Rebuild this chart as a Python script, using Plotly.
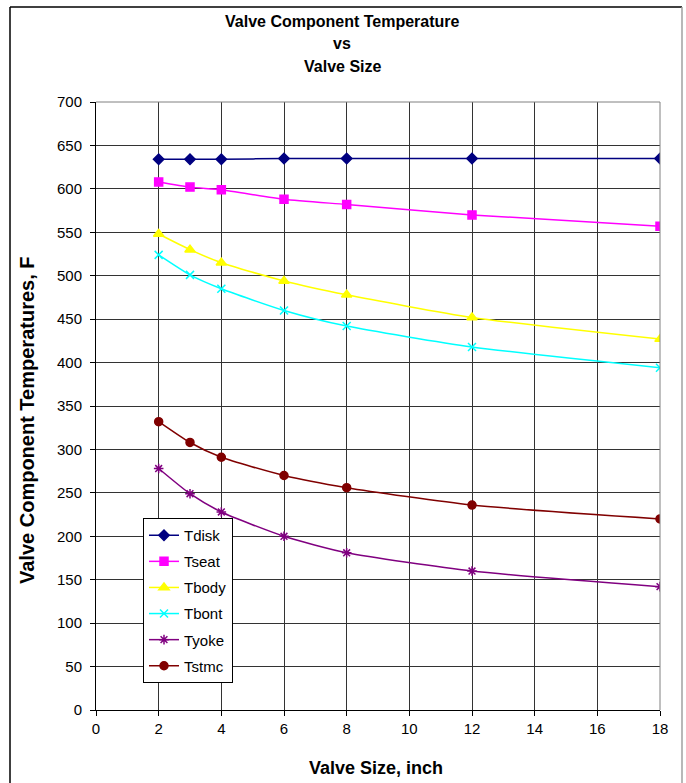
import plotly.graph_objects as go

# Valve size, inch
sizes = [2, 3, 4, 6, 8, 12, 18]

# Component temperatures, F
tdisk = [634, 634, 634, 635, 635, 635, 635]
tseat = [608, 602, 599, 588, 582, 570, 557]
tbody = [548, 530, 515, 494, 478, 452, 427]
tbont = [524, 501, 485, 460, 442, 418, 394]
tyoke = [278, 249, 228, 200, 181, 160, 142]
tstmc = [332, 308, 291, 270, 256, 236, 220]

x_ticks = list(range(0, 19, 2))
y_ticks = list(range(0, 701, 50))

FONT = "Liberation Sans, Arial, sans-serif"

series = [
    ("Tdisk", tdisk, "#000080", "diamond", 8),
    ("Tseat", tseat, "#FF00FF", "square", 8),
    ("Tbody", tbody, "#FFFF00", "triangle-up", 9),
    ("Tbont", tbont, "#00FFFF", "x-thin-open", 8),
    ("Tyoke", tyoke, "#800080", "asterisk-open", 8),
    ("Tstmc", tstmc, "#800000", "circle", 8),
]

fig = go.Figure()
for name, vals, color, symbol, msize in series:
    fig.add_trace(go.Scatter(
        x=sizes, y=vals, name=name, mode="lines+markers",
        line=dict(color=color, width=1.5, shape="spline", smoothing=0.6),
        marker=dict(symbol=symbol, size=msize, color=color,
                    line=dict(color=color, width=1.5)),
        legendgroup=name,
    ))

# plot-area dimensions in pixels
W, H = 686, 783
L, R, T, B = 96, 26, 102, 73
pw, ph = W - L - R, H - T - B


def px_x(p):
    return (p - L) / pw


def px_y(p):
    return (H - B - p) / ph


fig.update_layout(
    width=W, height=H,
    margin=dict(l=L, r=R, t=T, b=B, autoexpand=False),
    paper_bgcolor="white", plot_bgcolor="white",
    font=dict(family=FONT, size=15, color="black"),
    showlegend=True,
    legend=dict(
        x=px_x(143), y=px_y(518), xanchor="left", yanchor="top",
        bgcolor="white", bordercolor="black", borderwidth=1,
        font=dict(family=FONT, size=15, color="black"),
        tracegroupgap=3.6,
    ),
    xaxis=dict(
        range=[0, 18], tickvals=x_ticks, ticks="outside", ticklen=5,
        tickcolor="black", showline=True, linecolor="black", linewidth=1,
        showgrid=True, gridcolor="#333333", gridwidth=1, zeroline=False,
        tickfont=dict(family=FONT, size=15), automargin=False,
    ),
    yaxis=dict(
        range=[0, 700], tickvals=y_ticks, ticks="outside", ticklen=5,
        tickcolor="black", showline=True, linecolor="black", linewidth=1,
        showgrid=True, gridcolor="#333333", gridwidth=1, zeroline=False,
        tickfont=dict(family=FONT, size=15), ticklabelstandoff=5,
        automargin=False,
    ),
)

# chart title lines
title_lines = ["Valve Component Temperature", "vs", "Valve Size"]
for i, line in enumerate(title_lines):
    fig.add_annotation(
        text=f"<b>{line}</b>", xref="paper", yref="paper",
        x=px_x(342), y=px_y(21 + 23 * i), xanchor="center", yanchor="middle",
        showarrow=False, font=dict(family=FONT, size=16, color="black"),
    )

# axis titles
fig.add_annotation(
    text="<b>Valve Size, inch</b>", xref="paper", yref="paper",
    x=px_x(376), y=px_y(768), xanchor="center", yanchor="middle",
    showarrow=False, font=dict(family=FONT, size=18, color="black"),
)
fig.add_annotation(
    text="<b>Valve Component Temperatures, F</b>", xref="paper", yref="paper",
    x=px_x(27), y=px_y(420), xanchor="center", yanchor="middle", textangle=-90,
    showarrow=False, font=dict(family=FONT, size=20, color="black"),
)

# plot-area frame (top and right edges)
fig.add_shape(type="line", xref="paper", yref="paper", x0=0, x1=1, y0=1, y1=1,
              line=dict(color="#808080", width=1))
fig.add_shape(type="line", xref="paper", yref="paper", x0=1, x1=1, y0=0, y1=1,
              line=dict(color="#808080", width=1))

# chart-area frame
fig.add_shape(type="line", xref="paper", yref="paper",
              x0=px_x(10), x1=px_x(10), y0=px_y(7), y1=px_y(790),
              line=dict(color="black", width=1.5))
fig.add_shape(type="line", xref="paper", yref="paper",
              x0=px_x(10), x1=px_x(682), y0=px_y(7), y1=px_y(7),
              line=dict(color="black", width=1.5))
fig.add_shape(type="line", xref="paper", yref="paper",
              x0=px_x(682), x1=px_x(682), y0=px_y(7), y1=px_y(790),
              line=dict(color="#A0A0A0", width=1.5))

fig.write_html("out.html")
